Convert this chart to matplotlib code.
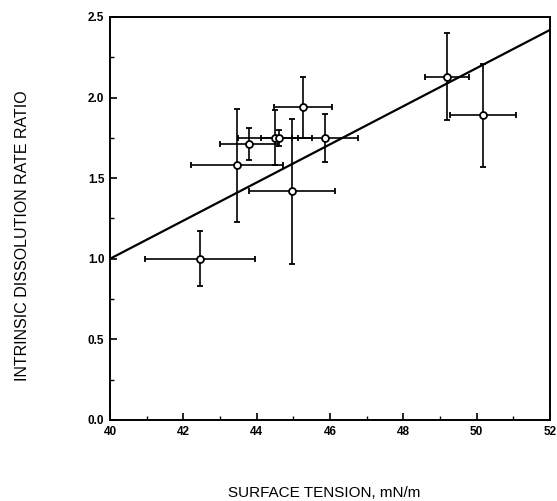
import matplotlib
matplotlib.use("Agg")
import matplotlib.pyplot as plt
from matplotlib.ticker import MultipleLocator, FormatStrFormatter

# Data
surface_tension = [42.45, 43.46, 43.79, 44.50, 44.62, 44.97, 45.26, 45.86, 49.19, 50.17]
rate_ratio      = [1.00, 1.58, 1.71, 1.75, 1.75, 1.42, 1.94, 1.75, 2.13, 1.89]
x_err           = [1.50, 1.26, 0.80, 1.00, 0.50, 1.18, 0.80, 0.90, 0.60, 0.90]
y_err           = [0.17, 0.35, 0.10, 0.17, 0.05, 0.45, 0.19, 0.15, 0.27, 0.32]

fit_x = [40.0, 52.0]
fit_y = [1.00, 2.42]

x_ticks = [40, 42, 44, 46, 48, 50, 52]
y_ticks = [0.0, 0.5, 1.0, 1.5, 2.0, 2.5]

plt.rcParams['font.family'] = ['Liberation Sans', 'DejaVu Sans']

fig = plt.figure(figsize=(5.57, 5.01), dpi=100)
ax = fig.add_axes([110/557, 1 - 420/501, 440/557, 403/501])

ax.plot(fit_x, fit_y, color='black', lw=1.6, zorder=2)
ax.errorbar(surface_tension, rate_ratio, xerr=x_err, yerr=y_err,
            fmt='o', color='black', ecolor='black', elinewidth=1.2,
            capsize=2.5, capthick=1.2, markersize=5, markerfacecolor='white',
            markeredgecolor='black', markeredgewidth=1.3, zorder=3)

ax.set_xlim(40, 52)
ax.set_ylim(0, 2.5)
ax.set_xticks(x_ticks)
ax.set_yticks(y_ticks)
ax.xaxis.set_minor_locator(MultipleLocator(1))
ax.yaxis.set_minor_locator(MultipleLocator(0.25))
ax.yaxis.set_major_formatter(FormatStrFormatter('%.1f'))
ax.tick_params(which='both', direction='in', top=False, right=False)
ax.tick_params(which='major', length=5, width=1.2, labelsize=8.5, pad=4)
ax.tick_params(which='minor', length=3, width=1.0)
for lbl in ax.get_xticklabels() + ax.get_yticklabels():
    lbl.set_fontweight('bold')
for s in ax.spines.values():
    s.set_linewidth(1.4)

fig.text(324/557, 1 - 493/501, 'SURFACE TENSION, mN/m', ha='center', va='center', fontsize=11)
fig.text(23/557, 1 - 236/501, 'INTRINSIC DISSOLUTION RATE RATIO', ha='center', va='center',
         rotation=90, fontsize=11.5)

fig.savefig('out.png', dpi=100)
